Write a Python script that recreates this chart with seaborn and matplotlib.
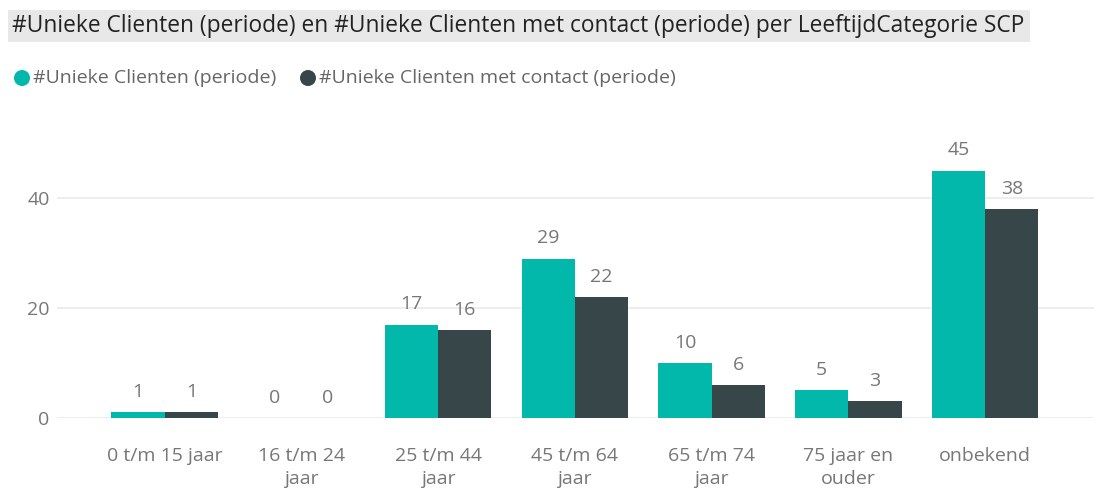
import numpy as np
import pandas as pd
import matplotlib
matplotlib.use('Agg')
import matplotlib.pyplot as plt
from matplotlib.patches import Rectangle, Ellipse
import seaborn as sns

sns.set_style("white")
plt.rcParams['font.family'] = ['Open Sans', 'DejaVu Sans']

# data
categories = ['0 t/m 15 jaar', '16 t/m 24\njaar', '25 t/m 44\njaar', '45 t/m 64\njaar',
              '65 t/m 74\njaar', '75 jaar en\nouder', 'onbekend']
unieke = [1, 0, 17, 29, 10, 5, 45]
met_contact = [1, 0, 16, 22, 6, 3, 38]
series = ['#Unieke Clienten (periode)', '#Unieke Clienten met contact (periode)']
colors = ['#01B8AA', '#374649']

df = pd.DataFrame({
    'cat': categories * 2,
    'val': unieke + met_contact,
    'serie': [series[0]] * len(categories) + [series[1]] * len(categories),
})

fig = plt.figure(figsize=(11.1, 4.9), dpi=100)
ax = fig.add_axes([0.051, 0.147, 0.935, 0.561])

sns.barplot(data=df, x='cat', y='val', hue='serie', palette=colors,
            width=0.78, saturation=1, linewidth=0, ax=ax, legend=False)

for cont in ax.containers:
    ax.bar_label(cont, padding=8, fontsize=14, color='#777777')

ax.set_ylim(0, 50)
ax.set_xlim(-0.79, 6.8)
ax.set_yticks([0, 20, 40])
ax.yaxis.grid(True, color='#EAEAEA', linewidth=1.2)
ax.set_axisbelow(True)
sns.despine(ax=ax, left=True, bottom=True)
ax.tick_params(axis='both', length=0, labelsize=14, colors='#777777')
ax.tick_params(axis='y', pad=5)
ax.tick_params(axis='x', pad=21)
for t in ax.get_xticklabels():
    t.set_linespacing(1.35)
ax.set_xlabel('')
ax.set_ylabel('')

# title bar
fig.patches.append(Rectangle((8 / 1110, 1 - 42 / 490), 1022 / 1110, 32 / 490,
                             transform=fig.transFigure, facecolor='#E8E8E8',
                             edgecolor='none', zorder=0))
fig.text(12 / 1110, 1 - 26 / 490,
         '#Unieke Clienten (periode) en #Unieke Clienten met contact (periode) per LeeftijdCategorie SCP',
         fontsize=16.4, color='#222222', va='center', ha='left')

# legend
lx = [22, 308]
for x, s, c in zip(lx, series, colors):
    fig.patches.append(Ellipse((x / 1110, 1 - 78 / 490), 16 / 1110, 16 / 490,
                               transform=fig.transFigure, facecolor=c, edgecolor='none'))
    fig.text((x + 11) / 1110, 1 - 78 / 490, s, fontsize=14, color='#666666',
             va='center', ha='left')

plt.savefig('out.png', dpi=100)
